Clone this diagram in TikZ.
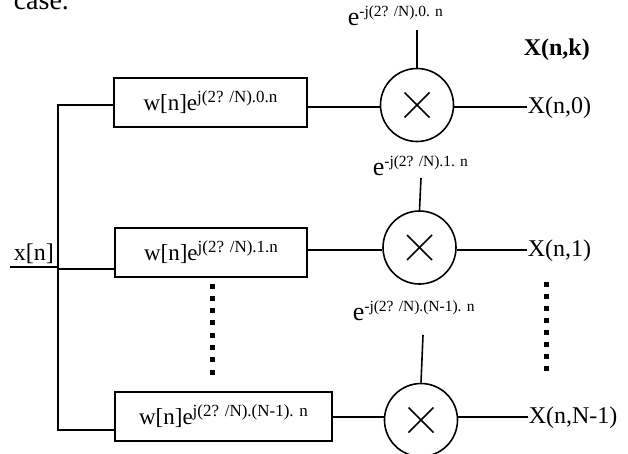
\documentclass[tikz,border=0pt]{standalone}
\usepackage{fontspec}
\setmainfont{Liberation Serif}
\newcommand\expo[1]{\raisebox{8pt}{\fontsize{17}{17}\selectfont #1}}
\newcommand\expsm[1]{\raisebox{9pt}{\fontsize{15.5}{16}\selectfont #1}}
\tikzset{
  every node/.style={inner sep=0pt},
  filt/.style={draw, line width=1.6pt, minimum height=49pt, font=\fontsize{23}{26}\selectfont},
  mult/.style={draw, circle, line width=1.6pt, minimum size=73pt},
  lbl/.style={anchor=base west, font=\fontsize{24}{28}\selectfont},
  elbl/.style={anchor=base west, font=\fontsize{26}{28}\selectfont},
  dotsq/.style={fill=black},
}
\begin{document}
\begin{tikzpicture}[x=1pt, y=-1pt, line width=1.6pt]
\useasboundingbox (0,0) rectangle (628,453);

% end of the preceding sentence
\node[anchor=base west, font=\fontsize{28}{30}\selectfont] (cap) at (13,9) {case.};

% windowing / modulation filters
\node[filt, minimum width=193pt] (b1) at (210.5,102.5) {w[n]e\expo{j(2? /N).0.n}};
\node[filt, minimum width=192pt] (b2) at (211,252.5) {w[n]e\expo{j(2? /N).1.n}};
\node[filt, minimum width=217pt] (b3) at (223.5,416.5) {w[n]e\expo{j(2? /N).(N-1). n}};

% multipliers
\node[mult] (m1) at (417,105) {};
\node[mult] (m2) at (419.5,247.5) {};
\node[mult] (m3) at (421,420) {};
\foreach \m in {m1,m2,m3} {
  \draw ([shift={(-12.5,-12.5)}]\m.center) -- ([shift={(12.5,12.5)}]\m.center);
  \draw ([shift={(-12.5,12.5)}]\m.center) -- ([shift={(12.5,-12.5)}]\m.center);
}

% demodulating exponentials
\node[elbl] (e1) at (347,25) {e\expsm{-j(2? /N).0. n}};
\node[elbl] (e2) at (372,175) {e\expsm{-j(2? /N).1. n}};
\node[elbl] (e3) at (352,320) {e\expsm{-j(2? /N).(N-1). n}};
\coordinate (p1) at (417,30);
\coordinate (p2) at (421,178);
\coordinate (p3) at (423,335);
\draw (m1.north) -- (p1);
\draw (m2.north) -- (p2);
\draw (m3.north) -- (p3);

% outputs
\node[lbl, font=\bfseries\fontsize{24}{28}\selectfont] (ok) at (523,55) {X(n,k)};
\node[lbl] (o1) at (527,113) {X(n,0)};
\node[lbl] (o2) at (527,256) {X(n,1)};
\node[lbl] (o3) at (528,423) {X(n,N-1)};
\draw (b1.east |- o1.west) -- (m1.west |- o1.west);
\draw (m1.east |- o1.west) -- (o1.west);
\draw (b2.east |- o2.west) -- (m2.west |- o2.west);
\draw (m2.east |- o2.west) -- (o2.west);
\draw (b3.east |- o3.west) -- (m3.west |- o3.west);
\draw (m3.east |- o3.west) -- (o3.west);

% input distribution
\node[lbl] (xn) at (13,260) {x[n]};
\coordinate (t1) at (58,105);
\coordinate (t2) at (58,269);
\coordinate (t3) at (58,430);
\coordinate (in) at (10,267);
\draw (t1 -| b1.west) -- (t1) -- (t3) -- (t3 -| b3.west);
\draw (t2) -- (t2 -| b2.west);
\draw (in) -- (in -| t2);

% ellipsis dots
\foreach \i in {0,...,7} {
  \fill[dotsq] (209.5,283.5+12.3*\i) rectangle ++(5,5);
  \fill[dotsq] (543.5,281.5+12*\i) rectangle ++(5,5);
}
\end{tikzpicture}
\end{document}
